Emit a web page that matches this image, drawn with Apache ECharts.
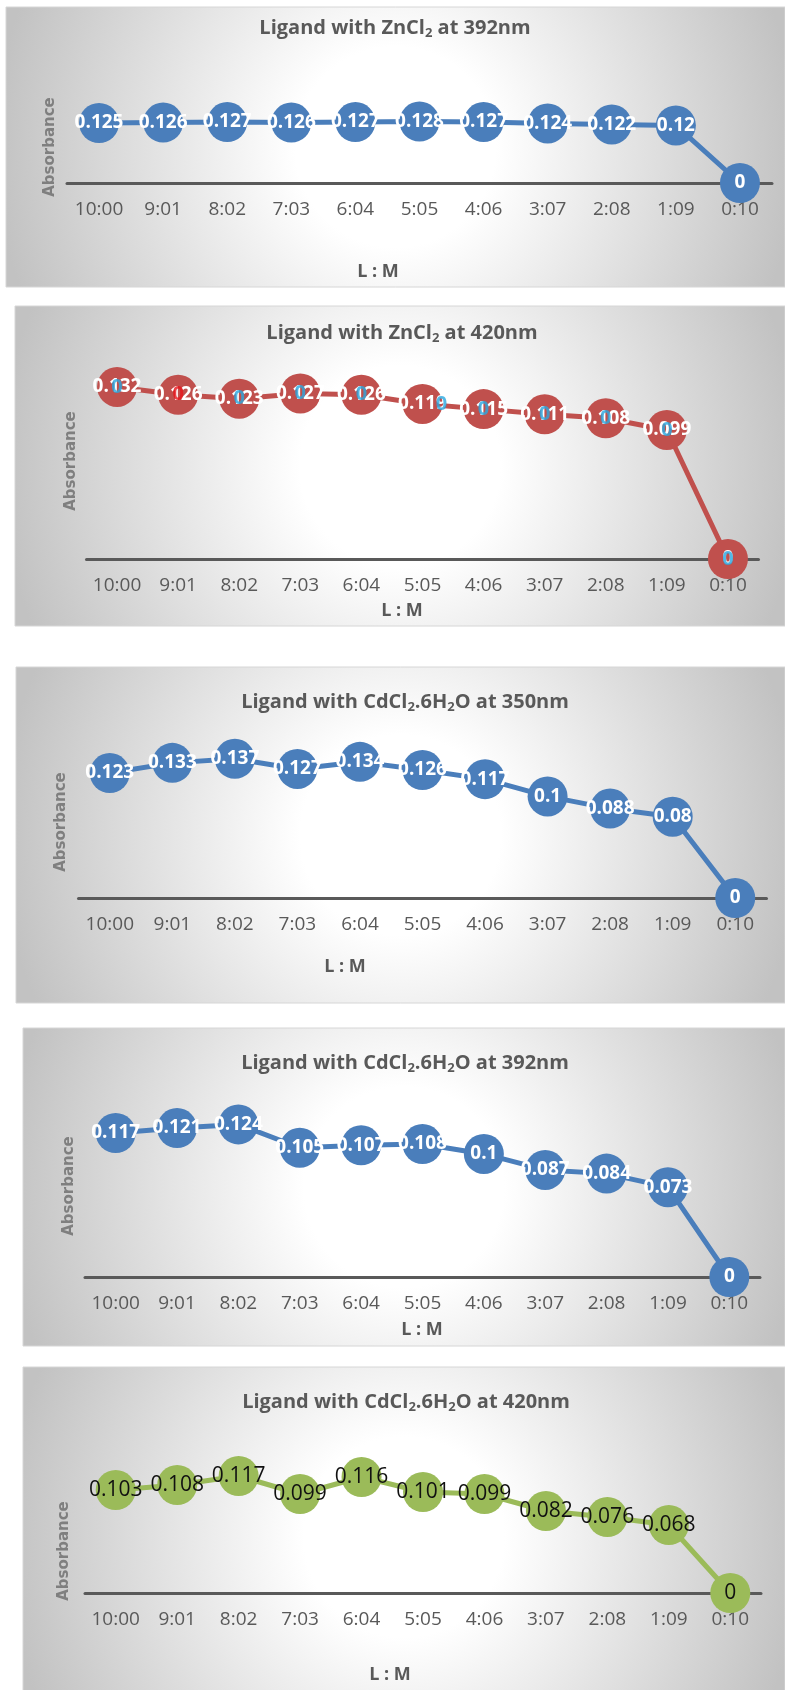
<!DOCTYPE html>
<html>
<head>
<meta charset="utf-8">
<script src="https://cdn.jsdelivr.net/npm/echarts@6/dist/echarts.min.js"></script>
<style>
html,body{margin:0;padding:0;background:#ffffff;}
#chart{width:785px;height:1690px;}
</style>
</head>
<body>
<div id="chart"></div>
<script>
// ---- data ----
const categories = ['10:00','9:01','8:02','7:03','6:04','5:05','4:06','3:07','2:08','1:09','0:10'];
const zn392 = [0.125,0.126,0.127,0.126,0.127,0.128,0.127,0.124,0.122,0.12,0];
const zn420 = [0.132,0.126,0.123,0.127,0.126,0.119,0.115,0.111,0.108,0.099,0];
const cd350 = [0.123,0.133,0.137,0.127,0.134,0.126,0.117,0.1,0.088,0.08,0];
const cd392 = [0.117,0.121,0.124,0.105,0.107,0.108,0.1,0.087,0.084,0.073,0];
const cd420 = [0.103,0.108,0.117,0.099,0.116,0.101,0.099,0.082,0.076,0.068,0];
const titles = [
  'Ligand with ZnCl{s|2} at 392nm',
  'Ligand with ZnCl{s|2} at 420nm',
  'Ligand with CdCl{s|2}.6H{s|2}O at 350nm',
  'Ligand with CdCl{s|2}.6H{s|2}O at 392nm',
  'Ligand with CdCl{s|2}.6H{s|2}O at 420nm'
];
const yName = 'Absorbance';
const xName = 'L : M';
const overlayLabel = '0';

// ---- layout / style ----
const FONT = '"Open Sans", "Noto Sans", "DejaVu Sans", sans-serif';
const panels = [
  {values: zn392, color:'#4a7ebb', rect:[6,7,779,280], grid:{left:67,top:87,width:705,height:96}, max:0.2,
   tx:395, ty:28, ax:50, ay:147, lx:378, ly:272, labelColor:'#ffffff', labelWeight:'bold', labelSize:19},
  {values: zn420, color:'#c0504d', rect:[15,306,770,320], grid:{left:86.5,top:363.5,width:672,height:195.5}, max:0.15,
   tx:402, ty:333, ax:71, ay:461, lx:402, ly:611, labelColor:'#ffffff', labelWeight:'bold', labelSize:19},
  {values: cd350, color:'#4a7ebb', rect:[16,667,769,336], grid:{left:78.5,top:745.6,width:688,height:152.4}, max:0.15,
   tx:405, ty:702, ax:61, ay:822, lx:345, ly:967, labelColor:'#ffffff', labelWeight:'bold', labelSize:19},
  {values: cd392, color:'#4a7ebb', rect:[23,1028,762,318], grid:{left:85,top:1092.4,width:675,height:184.6}, max:0.15,
   tx:405, ty:1063, ax:69, ay:1186, lx:422, ly:1330, labelColor:'#ffffff', labelWeight:'bold', labelSize:19},
  {values: cd420, color:'#9bbb59', rect:[23,1367,762,340], grid:{left:85,top:1443,width:676,height:150}, max:0.15,
   tx:406, ty:1402, ax:64, ay:1551, lx:390, ly:1675, labelColor:'#111111', labelWeight:'normal', labelSize:21}
];

const grids = [], xAxes = [], yAxes = [], series = [], graphics = [];

panels.forEach((p, i) => {
  grids.push(Object.assign({containLabel:false}, p.grid));
  xAxes.push({
    type:'category', gridIndex:i, data:categories, boundaryGap:true,
    axisLine:{show:true, lineStyle:{color:'#595959', width:3}},
    axisTick:{show:false},
    axisLabel:{color:'#595959', fontSize:19, fontFamily:FONT, margin:17, interval:0},
    splitLine:{show:false}
  });
  yAxes.push({
    type:'value', gridIndex:i, min:0, max:p.max, show:false, splitLine:{show:false}
  });
  series.push({
    type:'line', xAxisIndex:i, yAxisIndex:i, data:p.values,
    symbol:'circle', symbolSize:40, showAllSymbol:true,
    lineStyle:{color:p.color, width:5},
    itemStyle:{color:p.color},
    label:{show:true, position:'inside', color:p.labelColor, fontWeight:p.labelWeight,
           fontSize:p.labelSize, fontFamily:FONT},
    z:3, silent:true
  });
  const [rx, ry, rw, rh] = p.rect;
  graphics.push({
    type:'rect', z:-10, silent:true,
    shape:{x:rx, y:ry, width:rw, height:rh},
    style:{
      fill:{type:'radial', x:0.5, y:0.5, r:400/Math.min(rw, rh), global:false,
            colorStops:[{offset:0,color:'#ffffff'},{offset:0.25,color:'#ffffff'},{offset:1,color:'#c2c2c2'}]},
      stroke:'#d6d6d6', lineWidth:1
    }
  });
  graphics.push({
    type:'text', x:p.tx, y:p.ty, silent:true,
    style:{text:titles[i], x:0, y:0, align:'center', verticalAlign:'middle',
      fill:'#595959', font:'bold 20px ' + FONT,
      rich:{s:{fontSize:13, fontWeight:'bold', fontFamily:FONT, fill:'#595959', padding:[11,0,0,0]}}}
  });
  graphics.push({
    type:'text', x:p.ax, y:p.ay, rotation:Math.PI/2, silent:true,
    style:{text:yName, x:0, y:0, align:'center', verticalAlign:'middle',
      fill:'#7f7f7f', font:'bold 15px "DejaVu Sans", sans-serif'}
  });
  graphics.push({
    type:'text', x:p.lx, y:p.ly, silent:true,
    style:{text:xName, x:0, y:0, align:'center', verticalAlign:'middle',
      fill:'#595959', font:'bold 18px ' + FONT}
  });
});

// overlay "0" labels on the ZnCl2 420nm chart
series.push({
  type:'scatter', xAxisIndex:1, yAxisIndex:1, silent:true, z:6,
  data: zn420.map((v, i) => {
    if (i === 1) return {value:v, label:{color:'#e8141b'}};
    if (i === 5) return {value:v, label:{offset:[19,0]}};
    return v;
  }),
  symbolSize:1, itemStyle:{color:'rgba(0,0,0,0)'},
  label:{show:true, position:'inside', formatter:overlayLabel, color:'#29a8e0',
         fontWeight:'bold', fontSize:20, fontFamily:FONT}
});

const chart = echarts.init(document.getElementById('chart'), null, {renderer:'canvas'});
chart.setOption({
  animation:false,
  backgroundColor:'#ffffff',
  grid:grids, xAxis:xAxes, yAxis:yAxes, series:series,
  graphic:{elements:graphics}
});
</script>
</body>
</html>
